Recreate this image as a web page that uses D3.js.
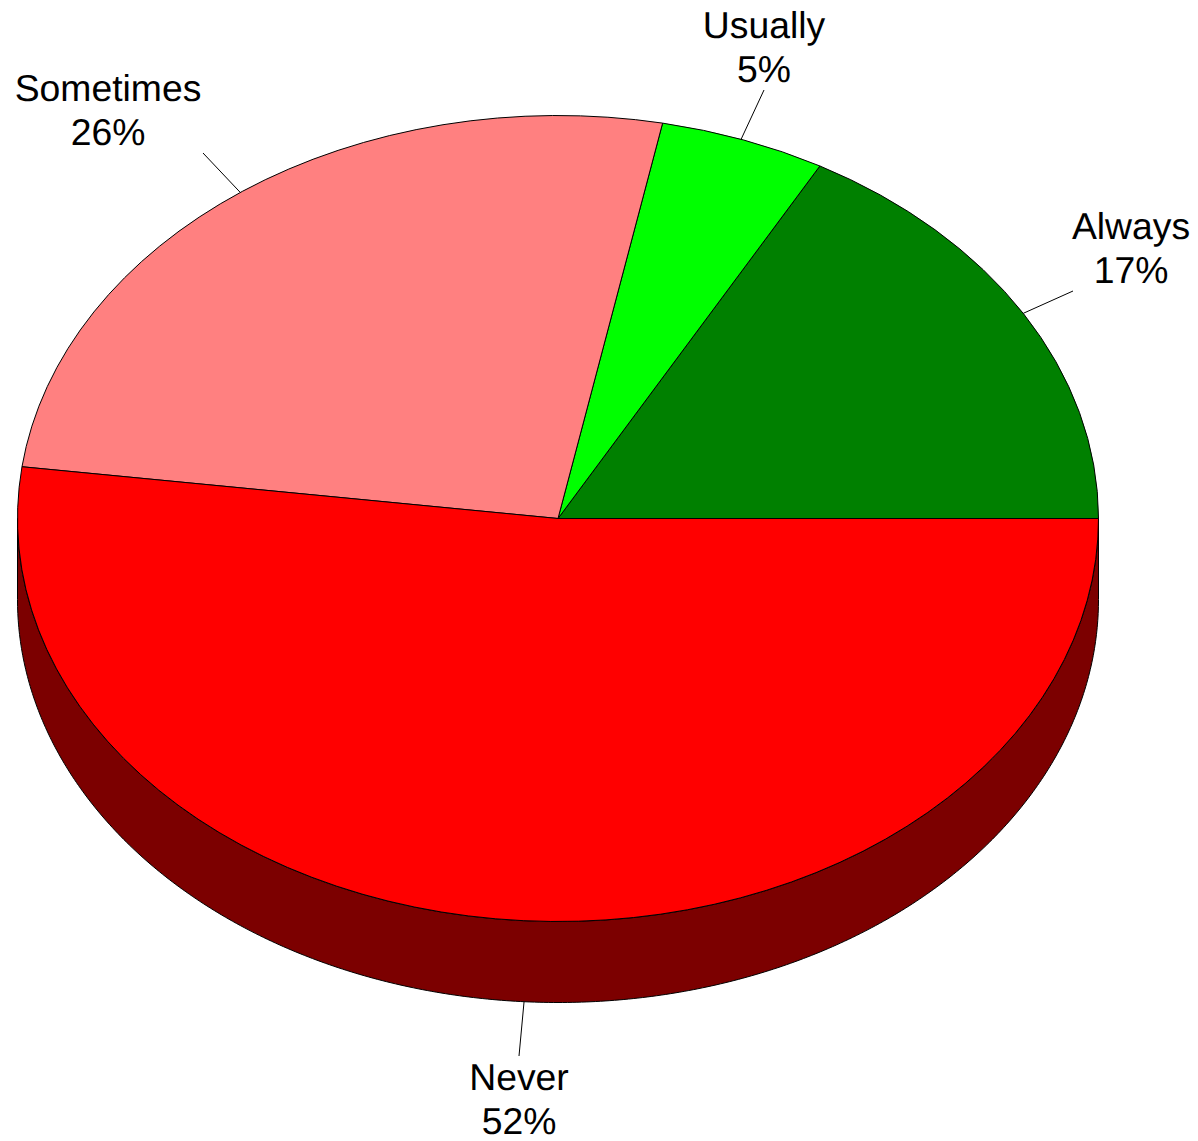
<!DOCTYPE html>
<html><head><meta charset="utf-8">
<script src="https://d3js.org/d3.v7.min.js"></script>
<style>html,body{margin:0;padding:0;background:#fff}svg{display:block}text{font-family:"Liberation Sans",Arial,sans-serif;font-size:37.33px;fill:#000;text-rendering:geometricPrecision}</style>
</head><body><script>
const categories = ["Always","Usually","Sometimes","Never"];
const values = [16.95,4.95,26.05,52.05];
const percents = [17,5,26,52];
const colors = ["#008000","#00ff00","#ff8080","#ff0000"];
const sideColor = "#7c0000";

const W=1198,H=1141,cx=558,cy=518.5,rx=540.5,ry=403,depth=81;
const svg=d3.select("body").append("svg").attr("width",W).attr("height",H);

// Slices run clockwise from the 3 o'clock position
const pie=d3.pie().sort(null).startAngle(Math.PI/2).endAngle(Math.PI/2-2*Math.PI);
const arcs=pie(values);
const labelArcs=pie(percents);
const px=a=>cx+rx*Math.sin(a), py=a=>cy-ry*Math.cos(a);

// Extruded side of the front half
const side=d3.area().x(px).y0(py).y1(a=>py(a)+depth);
const frontAngles=d3.range(0,361).map(i=>Math.PI/2+Math.PI*i/360);
svg.append("path").attr("d",side(frontAngles)).attr("fill",sideColor).attr("stroke","#000").attr("stroke-width",1);

// Top face
const arc=d3.arc().innerRadius(0).outerRadius(rx);
svg.append("g").attr("transform",`translate(${cx},${cy}) scale(1,${ry/rx})`)
  .selectAll("path").data(arcs).join("path")
  .attr("d",arc).attr("fill",(d,i)=>colors[i]).attr("stroke","#000")
  .attr("stroke-width",1).attr("vector-effect","non-scaling-stroke");

// Leader lines and labels
const labelPos=[[1131,239],[764,38],[108,101],[519,1090]];
const leaderEnd=[[1073,291],[764,90],[203,153],[519,1056]];
labelArcs.forEach((d,i)=>{
  const m=(d.startAngle+d.endAngle)/2;
  const isFront=Math.cos(m)<0;
  const x0=px(m), y0=py(m)+(isFront?depth:0);
  svg.append("line").attr("x1",x0).attr("y1",y0).attr("x2",leaderEnd[i][0]).attr("y2",leaderEnd[i][1]).attr("stroke","#000").attr("stroke-width",1);
  const t=svg.append("text").attr("text-anchor","middle");
  t.append("tspan").attr("x",labelPos[i][0]).attr("y",labelPos[i][1]).text(categories[i]);
  t.append("tspan").attr("x",labelPos[i][0]).attr("y",labelPos[i][1]+44).text(percents[i]+"%");
});
</script></body></html>
